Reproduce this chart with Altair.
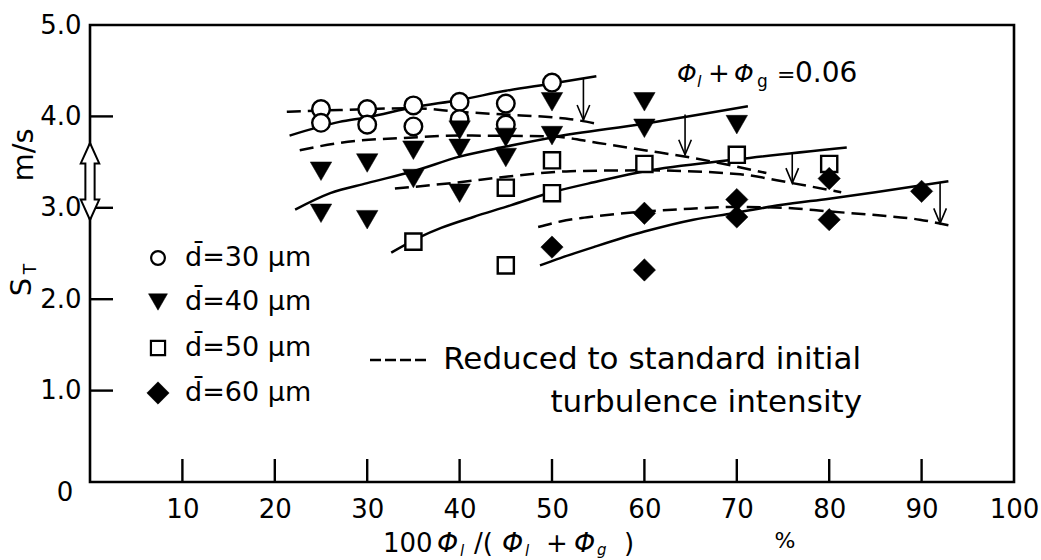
import altair as alt
import pandas as pd

# ---------------- values ----------------
# measured points, d = 30, 40, 50, 60 um
circ_x = [25, 25, 30, 30, 35, 35, 40, 40, 45, 45, 50]
circ_y = [4.08, 3.93, 4.08, 3.91, 4.12, 3.89, 4.16, 3.97, 4.14, 3.91, 4.37]

tri_x = [25, 25, 30, 30, 35, 35, 40, 40, 40, 45, 45, 50, 50, 60, 60, 70]
tri_y = [3.40, 2.94, 3.49, 2.87, 3.63, 3.32, 3.85, 3.65, 3.16, 3.77, 3.55, 4.16, 3.79, 4.16, 3.87, 3.91]

sq_x = [35, 45, 45, 50, 50, 60, 70, 80]
sq_y = [2.63, 2.37, 3.22, 3.52, 3.16, 3.48, 3.58, 3.48]

dia_x = [50, 60, 60, 70, 70, 80, 80, 90]
dia_y = [2.57, 2.94, 2.32, 3.09, 2.90, 3.32, 2.87, 3.18]

# fitted (solid) and reduced (dashed) curves
c_sol_x = [21.6, 27, 30, 35, 40, 45, 50, 54.8]
c_sol_y = [3.79, 3.94, 3.99, 4.10, 4.18, 4.28, 4.36, 4.44]
c_das_x = [21.3, 27, 30, 35, 40, 45, 50, 52, 54.8]
c_das_y = [4.05, 4.07, 4.08, 4.09, 4.05, 4.02, 3.99, 3.97, 3.92]

t_sol_x = [22.2, 26, 30, 35, 40, 45, 50, 60, 71.2]
t_sol_y = [2.98, 3.16, 3.27, 3.40, 3.56, 3.67, 3.77, 3.92, 4.11]
t_das_x = [22.7, 27, 35, 40, 50, 55, 60, 65, 73.2]
t_das_y = [3.63, 3.71, 3.77, 3.79, 3.78, 3.71, 3.63, 3.55, 3.38]

s_sol_x = [32.6, 35.7, 38, 41.5, 45, 50, 55, 60, 70, 81.9]
s_sol_y = [2.51, 2.68, 2.78, 2.90, 3.01, 3.17, 3.29, 3.40, 3.53, 3.66]
s_das_x = [33, 40, 45, 52, 60, 70, 76, 81.3]
s_das_y = [3.21, 3.28, 3.34, 3.40, 3.41, 3.37, 3.27, 3.17]

d_sol_x = [48.7, 50.9, 54.5, 60, 65.3, 69.6, 74.7, 80, 85, 92.9]
d_sol_y = [2.37, 2.45, 2.57, 2.74, 2.87, 2.94, 3.03, 3.10, 3.17, 3.29]
d_das_x = [48.5, 50.9, 55, 60, 65, 70, 75, 80, 85, 89.8, 92.9]
d_das_y = [2.79, 2.85, 2.91, 2.96, 2.99, 3.01, 3.00, 2.96, 2.92, 2.87, 2.81]

# reduction arrows (from solid down to dashed)
arr_x = [53.4, 64.4, 76.0, 92.0]
arr_top = [4.42, 4.02, 3.61, 3.27]
arr_bot = [3.96, 3.58, 3.27, 2.83]

# axes
x_labels = [10, 20, 30, 40, 50, 60, 70, 80, 90, 100]
x_ticks = [10, 20, 30, 40, 50, 60, 70, 80, 90]
y_labels = [1, 2, 3, 4, 5]
y_ticks = [1, 2, 3, 4]

legend_labels = ["d\u0304=30 \u00b5m", "d\u0304=40 \u00b5m", "d\u0304=50 \u00b5m", "d\u0304=60 \u00b5m"]

# ---------------- chart ----------------
W, H = 924, 457
OX, OY = 90, 25
FONT = "DejaVu Sans"

xs = alt.Scale(domain=[0, 100], nice=False, zero=False)
ys = alt.Scale(domain=[0, 5], nice=False, zero=False)
xaxis = alt.Axis(values=x_labels, title=None, ticks=False, domain=False, grid=False,
                 labelFontSize=26, labelFont=FONT, labelColor="black", labelPadding=14,
                 labelFlush=False, labelOverlap=False, labelAngle=0)
yaxis = alt.Axis(values=y_labels, format=".1f", title=None, ticks=False, domain=False, grid=False,
                 labelFontSize=26, labelFont=FONT, labelColor="black", labelPadding=9,
                 labelFlush=False, labelOverlap=False)


def X(f):
    return alt.X(f, type="quantitative", scale=xs, axis=xaxis)


def Y(f):
    return alt.Y(f, type="quantitative", scale=ys, axis=yaxis)


curves = {
    ("c", "solid"): (c_sol_x, c_sol_y),
    ("c", "dash"): (c_das_x, c_das_y),
    ("t", "solid"): (t_sol_x, t_sol_y),
    ("t", "dash"): (t_das_x, t_das_y),
    ("s", "solid"): (s_sol_x, s_sol_y),
    ("s", "dash"): (s_das_x, s_das_y),
    ("d", "solid"): (d_sol_x, d_sol_y),
    ("d", "dash"): (d_das_x, d_das_y),
}
rows = []
for (name, kind), (xx, yy) in curves.items():
    for i, (a, b) in enumerate(zip(xx, yy)):
        rows.append(dict(curve=name + kind, kind=kind, x=a, y=b, o=i))
cdf = pd.DataFrame(rows)

solid = alt.Chart(cdf[cdf.kind == "solid"]).mark_line(
    interpolate="monotone", color="black", strokeWidth=2.5
).encode(x=X("x"), y=Y("y"), detail="curve:N", order="o:Q")

dashed = alt.Chart(cdf[cdf.kind == "dash"]).mark_line(
    interpolate="monotone", color="black", strokeWidth=2.5, strokeDash=[14, 7]
).encode(x=X("x"), y=Y("y"), detail="curve:N", order="o:Q")

adf = pd.DataFrame({"x": arr_x, "top": arr_top, "bot": arr_bot})
arrows = alt.Chart(adf).mark_rule(color="black", strokeWidth=1.6).encode(
    x=X("x"), y=Y("top"), y2="bot")
heads = alt.Chart(adf).mark_point(
    shape="M-0.42,-1L0,0L0.42,-1", size=900, filled=False, stroke="black",
    strokeWidth=1.6, opacity=1
).encode(x=X("x"), y=Y("bot"))


def pts(xx, yy, **kw):
    return alt.Chart(pd.DataFrame({"x": xx, "y": yy})).mark_point(opacity=1, **kw).encode(
        x=X("x"), y=Y("y"))


circles = pts(circ_x, circ_y, shape="circle", size=310, filled=True, fill="white",
              stroke="black", strokeWidth=2.4)
tris = pts(tri_x, tri_y, shape="triangle-down", size=460, filled=True, fill="black",
           stroke="black", strokeWidth=0.5)
squares = pts(sq_x, sq_y, shape="square", size=260, filled=True, fill="white",
              stroke="black", strokeWidth=2.4)
dias = pts(dia_x, dia_y, shape="diamond", size=500, filled=True, fill="black",
           stroke="black", strokeWidth=0.5)

xt = alt.Chart(pd.DataFrame({"v": x_ticks})).mark_rule(color="black", strokeWidth=2.4).encode(
    x=X("v"), y=alt.value(H), y2=alt.value(H - 23))
yt = alt.Chart(pd.DataFrame({"v": y_ticks})).mark_rule(color="black", strokeWidth=2.4).encode(
    y=Y("v"), x=alt.value(0), x2=alt.value(23))


def label(text, px, py, size=27, align="left", baseline="alphabetic", angle=0,
          font=FONT, style="normal"):
    return alt.Chart(pd.DataFrame({"t": [text]})).mark_text(
        align=align, baseline=baseline, fontSize=size, font=font, fontStyle=style,
        angle=angle, color="black"
    ).encode(x=alt.value(px - OX), y=alt.value(py - OY), text="t:N")


texts = [
    label("0", 65, 493, 26, align="center", baseline="middle"),
    # y title
    label("m/s", 24, 155, 29, align="center", baseline="middle", angle=270),
    label("S", 22, 287, 29, align="center", baseline="middle", angle=270),
    label("T", 31, 269, 17, align="center", baseline="middle", angle=270),
    # x title
    label("100", 383, 552, 26),
    label("\u03a6", 437, 552, 27, style="italic"),
    label("l", 460, 556, 15, style="italic"),
    label("/(", 474, 552, 26),
    label("\u03a6", 502, 552, 27, style="italic"),
    label("l", 525, 556, 15, style="italic"),
    label("+", 546, 552, 26),
    label("\u03a6", 574, 552, 27, style="italic"),
    label("g", 597, 555, 15, style="italic"),
    label(")", 624, 552, 26),
    label("%", 785, 541, 22, align="center", baseline="middle"),
    # annotation
    label("\u03a6", 677, 82, 25, style="italic"),
    label("l", 697, 87, 16, style="italic"),
    label("+", 708, 82, 26),
    label("\u03a6", 734, 82, 25, style="italic"),
    label("g", 757, 87, 17),
    label("=", 777, 82, 22),
    label("0.06", 795, 82, 28),
    # dashed legend
    label("Reduced to standard initial", 861, 360, 31, align="right", baseline="middle"),
    label("turbulence intensity", 862, 403, 31, align="right", baseline="middle"),
]

leg_rows = [258, 302, 348, 393]
leg_text = [label(t, 185, r, 27, baseline="middle") for t, r in zip(legend_labels, leg_rows)]


def legpt(py, **kw):
    return alt.Chart(pd.DataFrame({"a": [0]})).mark_point(opacity=1, **kw).encode(
        x=alt.value(158 - OX), y=alt.value(py - OY))


leg_pts = [
    legpt(leg_rows[0], shape="circle", size=190, filled=True, fill="white", stroke="black", strokeWidth=2.2),
    legpt(leg_rows[1], shape="triangle-down", size=360, filled=True, fill="black", stroke="black", strokeWidth=0.5),
    legpt(leg_rows[2], shape="square", size=200, filled=True, fill="white", stroke="black", strokeWidth=2.2),
    legpt(leg_rows[3], shape="diamond", size=500, filled=True, fill="black", stroke="black", strokeWidth=0.5),
]

leg_dash = alt.Chart(pd.DataFrame({"a": [0]})).mark_rule(
    color="black", strokeWidth=2.4, strokeDash=[11, 4]
).encode(x=alt.value(370 - OX), x2=alt.value(429 - OX), y=alt.value(360 - OY))

arrow_path = ("M0,-1L0.24,-0.47L0.12,-0.47L0.12,0.47L0.24,0.47L0,1L-0.24,0.47"
              "L-0.12,0.47L-0.12,-0.47L-0.24,-0.47Z")
yarrow = alt.Chart(pd.DataFrame({"a": [0]})).mark_point(
    shape=arrow_path, size=77 ** 2, filled=True, fill="white", stroke="black",
    strokeWidth=2, opacity=1
).encode(x=alt.value(0), y=alt.value(181.5 - OY))

chart = alt.layer(
    xt, yt, solid, dashed, arrows, heads, circles, tris, squares, dias,
    yarrow, leg_dash, *leg_pts, *leg_text, *texts
).properties(
    width=W, height=H,
    background="white",
    autosize=alt.AutoSizeParams(type="none"),
    padding={"left": OX, "top": OY, "right": 1041 - OX - W, "bottom": 560 - OY - H},
).configure_view(
    stroke="black", strokeWidth=2.6
)

chart.save("out.html", embed_options={"renderer": "svg", "actions": False})
